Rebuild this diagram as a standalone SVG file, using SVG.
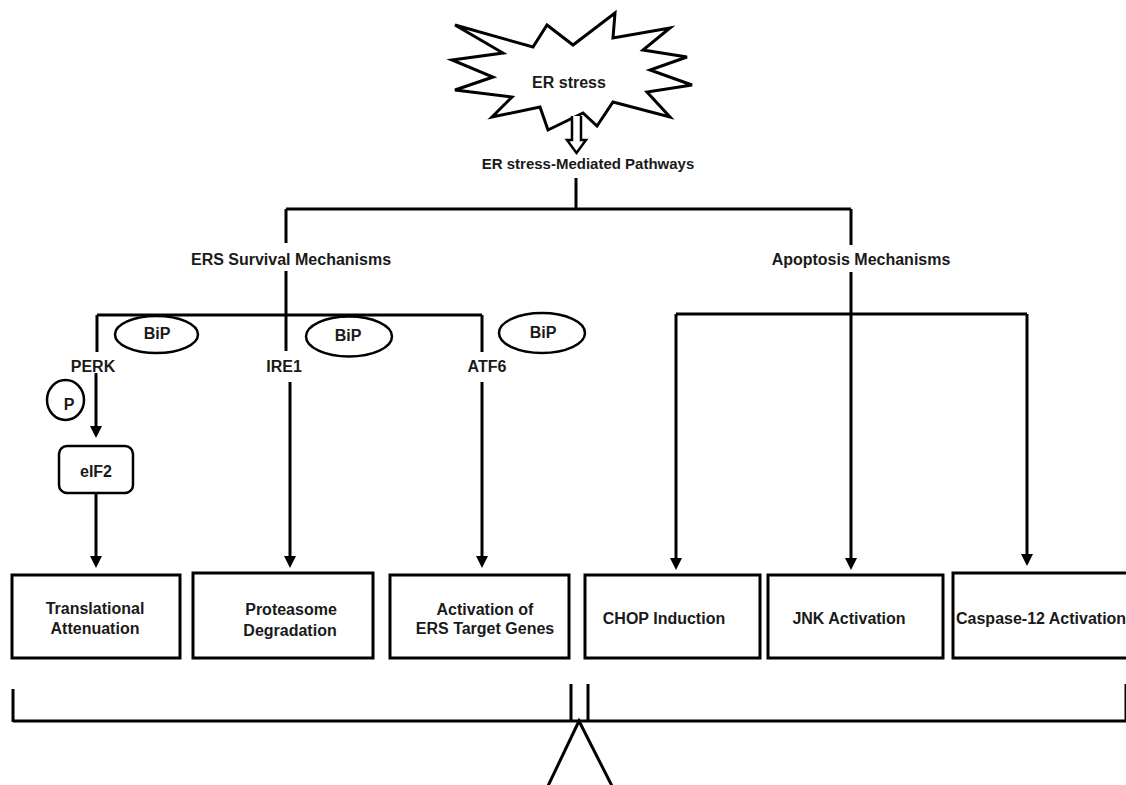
<svg xmlns="http://www.w3.org/2000/svg" width="1126" height="785" viewBox="0 0 1126 785">
<style>
.t{font-family:"Liberation Sans",Arial,sans-serif;font-weight:bold;font-size:16px;fill:#1a1a1a;text-anchor:middle}
.ln{fill:none;stroke:#000;stroke-width:3}
.bx{fill:#fff;stroke:#000;stroke-width:3}
.el{fill:#fff;stroke:#000;stroke-width:2.5}
</style>
<defs>
<marker id="ah" markerUnits="userSpaceOnUse" markerWidth="12" markerHeight="13" viewBox="0 0 12 13" refX="4" refY="6.5" orient="auto">
<path d="M0,0.5 L12,6.5 L0,12.5 Z" fill="#000"/>
</marker>
</defs>
<rect width="1126" height="785" fill="#fff"/>

<g id="er-stress">
<polygon class="bx" points="455,25 533,47 547,25 573,45 615,13 613,38 670,28 643,50 687,57 650,70 692,85 647,92 670,117 613,102 597,126 583,113 548,130 540,107 492,117 512,97 455,90 493,77 452,60 503,53"/>
<text class="t" x="569" y="88">ER stress</text>
<path d="M572,116 V140 H567 L576.5,153 L586,140 H581 V116" fill="#fff" stroke="#000" stroke-width="2.5"/>
</g>

<g id="connectors">
<path class="ln" d="M576,178 V209 M286,209 H851 M286,209 V243 M286,271 V351 M851,209 V245 M97,315 H482 M97,315 V352 M482,315 V352 M676,314 H1027"/>
<path class="ln" d="M851,272 V562" marker-end="url(#ah)"/>
<path class="ln" d="M676,314 V562" marker-end="url(#ah)"/>
<path class="ln" d="M1027,314 V558" marker-end="url(#ah)"/>
<path class="ln" d="M96,373 V430" marker-end="url(#ah)"/>
<path class="ln" d="M96,493 V560" marker-end="url(#ah)"/>
<path class="ln" d="M290,382 V560" marker-end="url(#ah)"/>
<path class="ln" d="M482,382 V560" marker-end="url(#ah)"/>
</g>

<g id="pathways"><text class="t" x="588" y="169" style="font-size:15px">ER stress-Mediated Pathways</text></g>
<g id="survival"><text class="t" x="291" y="265">ERS Survival Mechanisms</text></g>
<g id="apoptosis"><text class="t" x="861" y="265">Apoptosis Mechanisms</text></g>

<g id="bip1"><ellipse class="el" cx="156.5" cy="334.5" rx="41.5" ry="18.5"/><text class="t" x="157" y="339">BiP</text></g>
<g id="bip2"><ellipse class="el" cx="349" cy="336.5" rx="43" ry="20"/><text class="t" x="348" y="341">BiP</text></g>
<g id="bip3"><ellipse class="el" cx="542" cy="333" rx="43" ry="20"/><text class="t" x="543" y="338">BiP</text></g>

<g id="perk"><text class="t" x="93" y="372">PERK</text></g>
<g id="ire1"><text class="t" x="284" y="372">IRE1</text></g>
<g id="atf6"><text class="t" x="487" y="372">ATF6</text></g>

<g id="p"><ellipse class="el" cx="65.5" cy="400" rx="18.5" ry="20"/><text class="t" x="69" y="410">P</text></g>
<g id="eif2"><rect class="el" x="59" y="446" width="74" height="47" rx="8"/><text class="t" x="96" y="477">eIF2</text></g>

<g id="translational"><rect class="bx" x="12" y="575" width="168" height="83"/><text class="t" x="95" y="614">Translational</text><text class="t" x="95" y="634">Attenuation</text></g>
<g id="proteasome"><rect class="bx" x="193" y="573" width="180" height="85"/><text class="t" x="291" y="615">Proteasome</text><text class="t" x="290" y="636">Degradation</text></g>
<g id="activation"><rect class="bx" x="390" y="575" width="179" height="83"/><text class="t" x="485" y="615">Activation of</text><text class="t" x="485" y="634">ERS Target Genes</text></g>
<g id="chop"><rect class="bx" x="585" y="575" width="175" height="83"/><text class="t" x="664" y="624">CHOP Induction</text></g>
<g id="jnk"><rect class="bx" x="768" y="575" width="175" height="83"/><text class="t" x="849" y="624">JNK Activation</text></g>
<g id="caspase"><rect class="bx" x="953" y="573" width="190" height="85"/><text class="t" x="956" y="624" style="text-anchor:start">Caspase-12 Activation</text></g>

<g id="balance">
<path class="ln" d="M13,721 H1126 M13,689 V722 M571,684 V721 M588,684 V721 M1126,684 V721"/>
<polygon class="ln" points="579,721 547,788 613,788"/>
</g>
</svg>
